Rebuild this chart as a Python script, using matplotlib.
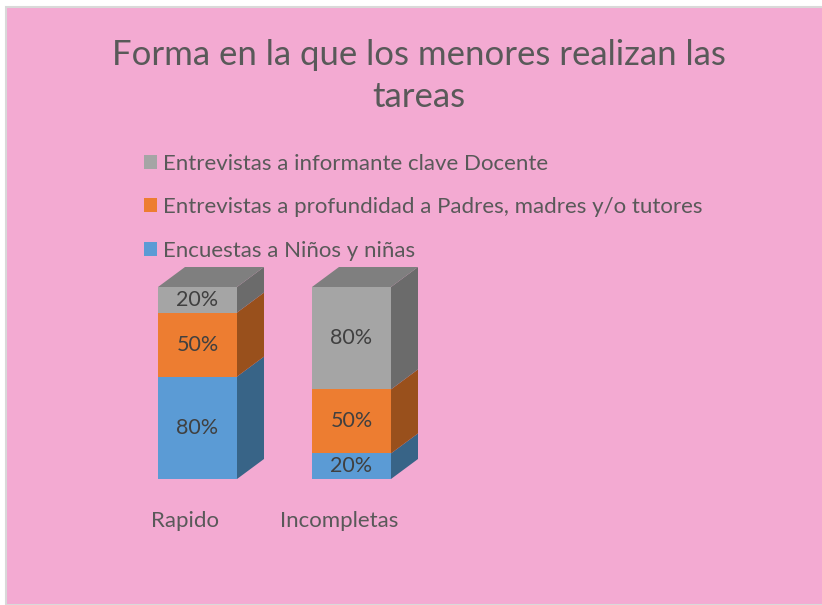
import numpy as np
import matplotlib
matplotlib.use('Agg')
import matplotlib.pyplot as plt
from matplotlib.patches import Rectangle, Polygon, Patch

plt.rcParams['font.family'] = ['Lato', 'DejaVu Sans']

# datos
categorias = ['Rapido', 'Incompletas']
series = ['Encuestas a Niños y niñas',
          'Entrevistas a profundidad a Padres, madres y/o tutores',
          'Entrevistas a informante clave Docente']
encuestas = [80, 20]
padres = [50, 50]
docente = [20, 80]
etiquetas = [['80%', '20%'], ['50%', '50%'], ['20%', '80%']]

frente = ['#5B9BD5', '#ED7D31', '#A5A5A5']
lado = ['#386487', '#99501C', '#6B6B6B']
arriba = ['#3E6E96', '#A8581F', '#7F7F7F']

W, H = 822, 605
fig = plt.figure(figsize=(W / 100, H / 100), dpi=100)
fig.patch.set_facecolor('white')
fig.add_artist(Rectangle((6 / W, 0), 1, 1 - 7 / H, transform=fig.transFigure,
                         facecolor='#F3AAD2', edgecolor='#D9D9D9', lw=1.5, zorder=-10))

# ejes en pixeles: categoria 0 centrada en x=197.5, 1 en 351.5
left, right = 120.5, 428.5
base, ppu = 479, 1.28
ax = fig.add_axes([left / W, (H - base) / H, (right - left) / W, 160 * ppu / H])
ax.set_xlim(-0.5, 1.5)
ax.set_ylim(0, 160)
ax.axis('off')

x = np.arange(len(categorias))
ancho = 79 / 154
dx = 27 / 154
dy = 20 / ppu

valores = [encuestas, padres, docente]
bottom = np.zeros(len(categorias))
for s, vals in enumerate(valores):
    vals = np.array(vals, dtype=float)
    ax.bar(x, vals, ancho, bottom=bottom, color=frente[s], clip_on=False, zorder=3)
    for i in range(len(x)):
        x1 = x[i] + ancho / 2
        b = bottom[i]
        h = vals[i]
        ax.add_patch(Polygon([(x1, b), (x1 + dx, b + dy), (x1 + dx, b + h + dy), (x1, b + h)],
                             closed=True, facecolor=lado[s], edgecolor='none',
                             clip_on=False, zorder=2))
        ax.text(x[i], b + h / 2, etiquetas[s][i], ha='center', va='center',
                fontsize=15.5, color='#404040', zorder=5)
    bottom = bottom + vals

# tapa superior
for i in range(len(x)):
    x0 = x[i] - ancho / 2
    x1 = x[i] + ancho / 2
    t = bottom[i]
    ax.add_patch(Polygon([(x0, t), (x1, t), (x1 + dx, t + dy), (x0 + dx, t + dy)],
                         closed=True, facecolor=arriba[2], edgecolor='none',
                         clip_on=False, zorder=2))

for i, c in enumerate(categorias):
    ax.text(x[i] - 0.08, -33, c, ha='center', va='center', fontsize=16, color='#595959')

fig.text(419 / W, 1 - 76 / H, 'Forma en la que los menores realizan las\ntareas',
         ha='center', va='center', fontsize=25, color='#595959', linespacing=1.42)

handles = [Patch(facecolor=frente[s], edgecolor='none') for s in [2, 1, 0]]
fig.legend(handles, [series[s] for s in [2, 1, 0]], loc='upper left',
           bbox_to_anchor=(135 / W, 1 - 145 / H), frameon=False, fontsize=16,
           labelcolor='#595959', handlelength=0.6, handleheight=0.6,
           handletextpad=0.25, labelspacing=1.05, borderaxespad=0)

fig.savefig('out.png', dpi=100)
